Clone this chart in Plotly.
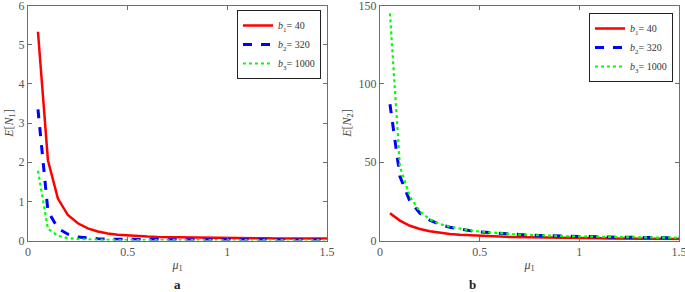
import plotly.graph_objects as go

mu = [0.05, 0.10, 0.15, 0.20, 0.25, 0.30, 0.35, 0.40, 0.45, 0.50,
      0.55, 0.60, 0.65, 0.70, 0.75, 0.80, 0.85, 0.90, 0.95, 1.00,
      1.05, 1.10, 1.15, 1.20, 1.25, 1.30, 1.35, 1.40, 1.45, 1.50]

# Panel a: E[N1]
a_b1 = [5.33, 2.05, 1.07, 0.65, 0.44, 0.31, 0.23, 0.18, 0.15, 0.13,
        0.115, 0.10, 0.09, 0.085, 0.08, 0.075, 0.07, 0.068, 0.065, 0.062,
        0.06, 0.058, 0.056, 0.055, 0.054, 0.053, 0.052, 0.051, 0.05, 0.05]
a_b2 = [3.35, 0.75, 0.31, 0.16, 0.09, 0.06, 0.045, 0.035, 0.03, 0.026,
        0.023, 0.021, 0.02, 0.019, 0.018, 0.018, 0.017, 0.017, 0.016, 0.016,
        0.016, 0.015, 0.015, 0.015, 0.015, 0.015, 0.015, 0.015, 0.015, 0.015]
a_b3 = [1.78, 0.30, 0.12, 0.06, 0.035, 0.024, 0.018, 0.015, 0.013, 0.012,
        0.011, 0.01, 0.01, 0.01, 0.01, 0.01, 0.01, 0.01, 0.01, 0.01,
        0.01, 0.01, 0.01, 0.01, 0.01, 0.01, 0.01, 0.01, 0.01, 0.01]

# Panel b: E[N2]
b_b1 = [17.4, 12.7, 9.4, 7.3, 5.9, 4.9, 4.2, 3.7, 3.3, 3.0,
        2.7, 2.5, 2.3, 2.15, 2.0, 1.9, 1.8, 1.7, 1.6, 1.5,
        1.45, 1.4, 1.35, 1.3, 1.25, 1.2, 1.15, 1.1, 1.07, 1.03]
b_b2 = [87.0, 41.0, 25.0, 17.5, 13.0, 10.2, 8.5, 7.2, 6.3, 5.5,
        5.0, 4.5, 4.1, 3.7, 3.4, 3.2, 3.0, 2.8, 2.65, 2.5,
        2.4, 2.3, 2.2, 2.1, 2.0, 1.95, 1.85, 1.8, 1.75, 1.7]
b_b3 = [145.0, 47.0, 28.0, 18.5, 13.5, 10.5, 8.8, 7.5, 6.5, 5.7,
        5.1, 4.6, 4.2, 3.8, 3.5, 3.3, 3.1, 2.9, 2.7, 2.6,
        2.45, 2.35, 2.25, 2.15, 2.05, 2.0, 1.9, 1.85, 1.8, 1.75]

names = ["<i>b</i><sub>1</sub>= 40", "<i>b</i><sub>2</sub>= 320", "<i>b</i><sub>3</sub>= 1000"]
colors = ["#ff0000", "#0000ff", "#00ff00"]
dashes = ["solid", "dash", "dot"]
widths = [2.5, 3, 2.2]

FONT = "Liberation Serif, Times New Roman, serif"
AX = "#6e6e6e"
TXT = "#555555"

fig = go.Figure()
for series, xa, ya, lg in [((a_b1, a_b2, a_b3), "x", "y", "legend"),
                           ((b_b1, b_b2, b_b3), "x2", "y2", "legend2")]:
    for i, s in enumerate(series):
        fig.add_trace(go.Scatter(x=mu, y=s, mode="lines", name=names[i],
                                 line=dict(color=colors[i], dash=dashes[i], width=widths[i]),
                                 xaxis=xa, yaxis=ya, legend=lg))

ydom = [(292 - 240.5) / 292, (292 - 5.5) / 292]
axis_common = dict(showline=True, linecolor=AX, linewidth=1, mirror="ticks",
                   ticks="inside", ticklen=4, tickcolor=AX, showgrid=False,
                   zeroline=False, ticklabeloverflow="allow", automargin=False,
                   tickfont=dict(family=FONT, size=12, color=TXT))
title_font = dict(family=FONT, size=12, color="#444444")

fig.update_layout(
    width=685, height=292, margin=dict(l=0, r=0, t=0, b=0),
    paper_bgcolor="white", plot_bgcolor="white",
    font=dict(family=FONT, color=TXT),
    xaxis=dict(domain=[28 / 685, 327 / 685], range=[0, 1.5001], tickvals=[0, 0.5, 1, 1.5],
               ticktext=["0", "0.5", "1", "1.5"], anchor="y",
               title=dict(text="<i>μ</i><sub>1</sub>", font=title_font, standoff=2), **axis_common),
    yaxis=dict(domain=ydom, range=[0, 6.0001], tickvals=[0, 1, 2, 3, 4, 5, 6], anchor="x",
               title=dict(text="<i>E</i>[<i>N</i><sub>1</sub>]", font=title_font, standoff=2), **axis_common),
    xaxis2=dict(domain=[380 / 685, 679 / 685], range=[0, 1.5001], tickvals=[0, 0.5, 1, 1.5],
                ticktext=["0", "0.5", "1", "1.5"], anchor="y2",
                title=dict(text="<i>μ</i><sub>1</sub>", font=title_font, standoff=2), **axis_common),
    yaxis2=dict(domain=ydom, range=[0, 150.01], tickvals=[0, 50, 100, 150], anchor="x2",
                title=dict(text="<i>E</i>[<i>N</i><sub>2</sub>]", font=title_font, standoff=4), **axis_common),
    legend=dict(x=321 / 685, y=(292 - 10) / 292, xanchor="right", yanchor="top",
                bgcolor="white", bordercolor="#222222", borderwidth=1,
                font=dict(family=FONT, size=10, color="#333333"), itemwidth=30,
                tracegroupgap=0),
    legend2=dict(x=673 / 685, y=(292 - 13) / 292, xanchor="right", yanchor="top",
                 bgcolor="white", bordercolor="#222222", borderwidth=1,
                 font=dict(family=FONT, size=10, color="#333333"), itemwidth=30,
                 tracegroupgap=0),
    showlegend=True,
)

for txt, xp in [("<b>a</b>", 177), ("<b>b</b>", 472)]:
    fig.add_annotation(xref="paper", yref="paper", showarrow=False, xanchor="center",
                       yanchor="middle", text=txt, x=xp / 685, y=(292 - 284) / 292,
                       font=dict(family=FONT, size=13, color="#222222"))

fig.write_html("out.html", config={"displayModeBar": False},
               post_script="document.body.style.margin='0';document.body.style.overflow='hidden';")
